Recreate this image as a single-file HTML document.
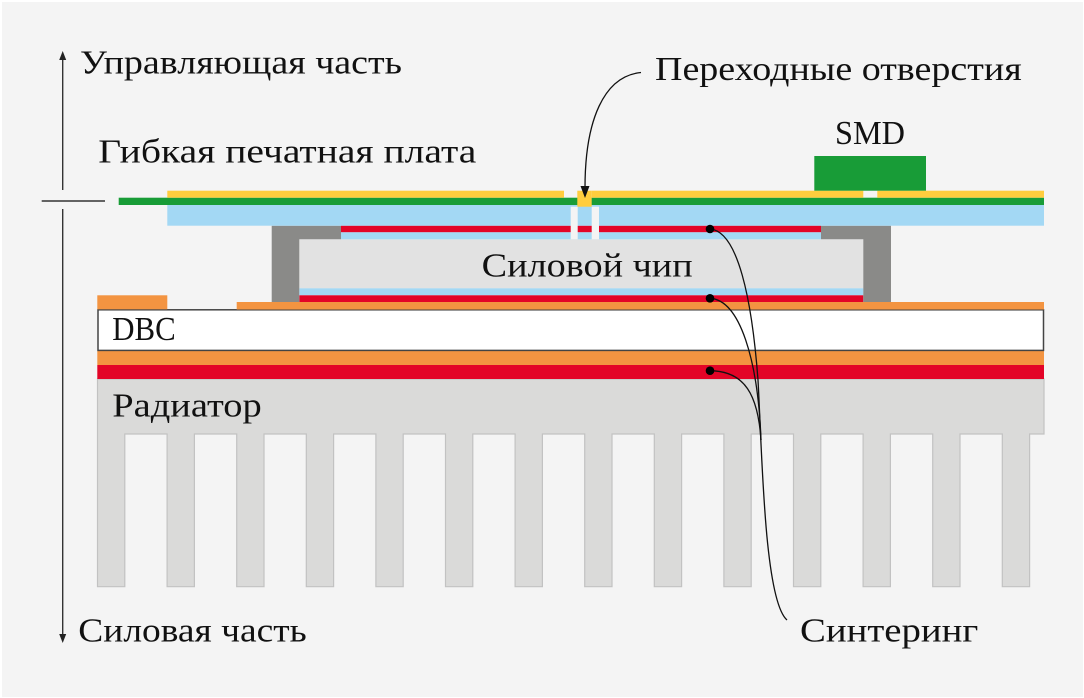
<!DOCTYPE html>
<html>
<head>
<meta charset="utf-8">
<style>
  html,body{margin:0;padding:0;background:#ffffff;}
  svg{display:block;}
  text{font-family:"Liberation Serif","Noto Serif CJK SC",serif;fill:#111;font-size:34px;}
</style>
</head>
<body>
<svg width="1084" height="698" viewBox="0 0 1084 698" xmlns="http://www.w3.org/2000/svg">
  <rect x="2" y="2" width="1081" height="695" fill="#f4f4f4"/>

  <!-- Radiator -->
  <path d="M97.5,379 H1044 V434 H1029.6 V586.7 H1002.3 V434 H960 V586.7 H932.7 V434 H890.4 V586.7 H863.1 V434 H820.8 V586.7 H793.5 V434 H751.2 V586.7 H723.9 V434 H681.6 V586.7 H654.3 V434 H612 V586.7 H584.7 V434 H542.4 V586.7 H515.1 V434 H472.8 V586.7 H445.5 V434 H403.2 V586.7 H375.9 V434 H333.6 V586.7 H306.3 V434 H264 V586.7 H236.7 V434 H194.4 V586.7 H167.1 V434 H124.8 V586.7 H97.5 Z" fill="#dadad9" stroke="#c2c2c2" stroke-width="1.2"/>

  <!-- Red & orange under DBC -->
  <rect x="97.3" y="365" width="946.7" height="14" fill="#e30427"/>
  <rect x="97.3" y="350.7" width="946.7" height="14.3" fill="#f39441"/>

  <!-- DBC -->
  <rect x="98" y="309.8" width="945.5" height="40.6" fill="#ffffff" stroke="#444" stroke-width="1.5"/>

  <!-- Orange top of DBC -->
  <rect x="97.3" y="295.3" width="70" height="14" fill="#f39441"/>
  <rect x="236.7" y="302" width="807.3" height="7.5" fill="#f39441"/>

  <!-- Chip -->
  <rect x="299.3" y="239.3" width="564" height="49" fill="#e2e2e2"/>
  <rect x="299.3" y="288.3" width="564" height="7" fill="#a3d8f4"/>
  <rect x="299.3" y="295.3" width="564" height="6.7" fill="#e30427"/>

  <!-- Gray brackets -->
  <polygon points="271.7,225.7 341,225.7 341,239.3 299.3,239.3 299.3,302 271.7,302" fill="#8a8a88"/>
  <polygon points="821,225.7 891,225.7 891,302 863.3,302 863.3,239.3 821,239.3" fill="#8a8a88"/>

  <!-- Top sinter layer under PCB -->
  <rect x="341" y="225.7" width="480" height="6.6" fill="#e30427"/>
  <rect x="341" y="232.3" width="480" height="7" fill="#a3d8f4"/>

  <!-- Flexible PCB -->
  <rect x="167.3" y="205" width="876.7" height="20.7" fill="#a3d8f4"/>
  <rect x="118.7" y="197.7" width="925.3" height="7.3" fill="#189c37"/>
  <rect x="167.3" y="190.7" width="396.7" height="7" fill="#ffcd3e"/>
  <rect x="591.7" y="190.7" width="271.6" height="7" fill="#ffcd3e"/>
  <rect x="877.3" y="190.7" width="166.7" height="7" fill="#ffcd3e"/>
  <!-- via -->
  <rect x="577.3" y="190.7" width="14.4" height="16" fill="#ffcd3e"/>
  <rect x="570.7" y="206.7" width="7" height="32.6" fill="#f4f4f4"/>
  <rect x="591.7" y="206.7" width="7.3" height="32.6" fill="#f4f4f4"/>

  <!-- SMD -->
  <rect x="814.3" y="156" width="111.7" height="34.7" fill="#189c37"/>

  <!-- Left axis -->
  <line x1="62.7" y1="58" x2="62.7" y2="190" stroke="#333" stroke-width="1.4"/>
  <polygon points="62.7,51 59.2,60 66.2,60" fill="#222"/>
  <line x1="41.7" y1="201" x2="105" y2="201" stroke="#333" stroke-width="1.4"/>
  <line x1="62.7" y1="209" x2="62.7" y2="636" stroke="#333" stroke-width="1.4"/>
  <polygon points="62.7,643 59.2,634 66.2,634" fill="#222"/>

  <!-- Via arrow -->
  <path d="M641,72.5 C604,76 585,120 585,188" fill="none" stroke="#111" stroke-width="1.3"/>
  <polygon points="585,198 580.5,186 589.5,186" fill="#111"/>

  <!-- Sintering connectors -->
  <path d="M710,229 C738,231 752,300 758,380 C762,450 764,600 787,620" fill="none" stroke="#111" stroke-width="1.3"/>
  <path d="M710,298.3 C740,300 758,360 761,440" fill="none" stroke="#111" stroke-width="1.3"/>
  <path d="M710,370.7 C745,371 758,395 761,440" fill="none" stroke="#111" stroke-width="1.3"/>
  <circle cx="710" cy="229" r="4.3" fill="#000"/>
  <circle cx="710" cy="298.3" r="4.3" fill="#000"/>
  <circle cx="710" cy="370.7" r="4.3" fill="#000"/>

  <!-- Labels -->
  <text x="80" y="73.3" textLength="322" lengthAdjust="spacingAndGlyphs">Управляющая часть</text>
  <text x="98.3" y="162.7" textLength="378" lengthAdjust="spacingAndGlyphs">Гибкая печатная плата</text>
  <text x="655" y="80" textLength="366.7" lengthAdjust="spacingAndGlyphs">Переходные отверстия</text>
  <text x="835" y="144" textLength="70" lengthAdjust="spacingAndGlyphs">SMD</text>
  <text x="481.7" y="276.7" textLength="211" lengthAdjust="spacingAndGlyphs">Силовой чип</text>
  <text x="112.3" y="340" textLength="63.4" lengthAdjust="spacingAndGlyphs">DBC</text>
  <text x="112.3" y="416.7" textLength="149.4" lengthAdjust="spacingAndGlyphs">Радиатор</text>
  <text x="78.3" y="641.7" textLength="228.4" lengthAdjust="spacingAndGlyphs">Силовая часть</text>
  <text x="800" y="641.7" textLength="178.3" lengthAdjust="spacingAndGlyphs">Синтеринг</text>
</svg>
</body>
</html>
